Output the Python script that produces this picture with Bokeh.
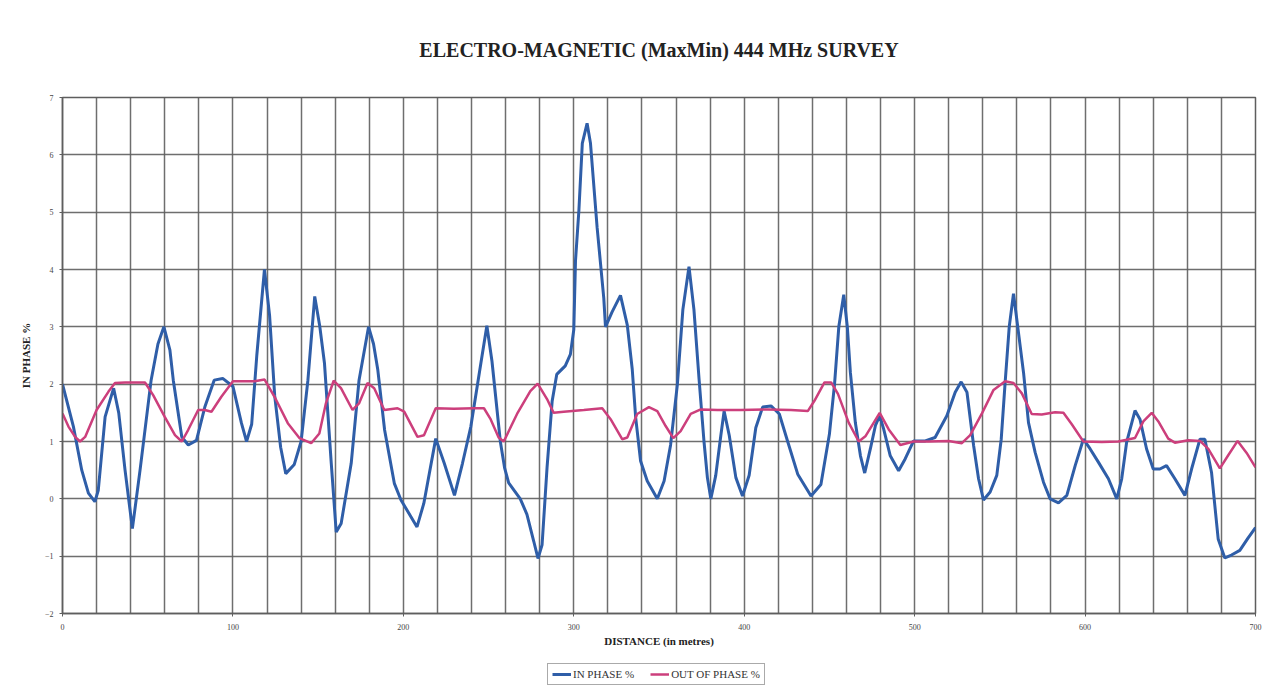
from bokeh.plotting import figure
from bokeh.layouts import column
from bokeh.models import Range1d, SingleIntervalTicker, Legend, LegendItem
from bokeh.embed import file_html
from bokeh.resources import INLINE

# ---- data ----
in_phase_x = [0, 6.4, 11.3, 15.2, 19, 21, 25, 30, 33, 36.7, 41, 45.5, 52, 56, 59.5, 63, 65, 70, 73.8, 78.6,
              83.5, 89, 94, 100, 105, 108, 111, 114, 118.5, 121.5, 124.5, 128, 131, 136, 140, 144, 148, 151,
              153.7, 157.7, 160.6, 163.5, 169.4, 174, 179.6, 182.5, 185, 189, 194.7, 198.6, 208, 212, 219,
              224, 230, 234.7, 239.6, 245.5, 249, 252, 256.9, 259.4, 261.8, 268.6, 272.5, 276.5, 279, 281.4,
              284.3, 287.3, 290, 295, 298, 300, 301, 303, 305, 307.8, 309.8, 313.7, 317.6, 318.6, 322.5,
              327.4, 331.4, 334.3, 336.3, 339.2, 343.1, 349, 353, 356.8, 360.8, 364, 367.6, 370.5, 373.5,
              376.4, 378.4, 380.4, 383.3, 386.3, 388.2, 391.2, 395.1, 399, 402.9, 406.8, 410.8, 415.7, 420.6,
              425.5, 431.4, 439.2, 445, 450, 453, 455.5, 458.4, 460.5, 462.3, 465.2, 468.2, 470.7, 474, 477,
              479.5, 481.8, 485.7, 490.6, 494.5, 499.4, 506.2, 512, 518.9, 523.8, 527.3, 530.7, 534.6, 537.5,
              540.4, 544.3, 548.2, 550.8, 553.1, 555.5, 558, 560.5, 563.9, 566.8, 570.7, 575.6, 579.5, 584.4,
              589.3, 594.2, 599, 603, 607.8, 613.7, 618.6, 621.5, 624.4, 629.3, 632.2, 636.1, 640, 643.9,
              647.8, 652.7, 658.6, 662.5, 667.4, 670.3, 674.2, 678.1, 682, 685.9, 690.8, 695.7, 700]
in_phase_y = [2.0, 1.26, 0.5, 0.1, -0.05, 0.15, 1.43, 1.93, 1.5, 0.5, -0.52, 0.5, 2.07, 2.7, 3.0, 2.6, 2.07,
              1.08, 0.94, 1.02, 1.6, 2.07, 2.1, 1.96, 1.32, 1.0, 1.3, 2.5, 4.0, 3.2, 1.8, 0.9, 0.44, 0.6, 1.0,
              2.07, 3.53, 3.0, 2.37, 0.62, -0.58, -0.43, 0.62, 2.07, 3.0, 2.7, 2.25, 1.2, 0.27, -0.02, -0.49,
              -0.08, 1.05, 0.62, 0.06, 0.62, 1.26, 2.37, 3.02, 2.4, 1.0, 0.54, 0.28, 0.0, -0.27, -0.74, -1.04,
              -0.8, 0.54, 1.7, 2.17, 2.32, 2.52, 2.95, 4.15, 5.03, 6.2, 6.55, 6.2, 4.73, 3.5, 3.0, 3.26, 3.55,
              3.03, 2.26, 1.42, 0.66, 0.31, 0.0, 0.31, 0.94, 2.0, 3.3, 4.05, 3.3, 2.09, 1.0, 0.37, 0.0, 0.41,
              1.11, 1.53, 1.11, 0.37, 0.05, 0.41, 1.24, 1.6, 1.62, 1.48, 1.0, 0.43, 0.05, 0.25, 1.13, 2.0,
              3.0, 3.56, 3.0, 2.2, 1.33, 0.75, 0.45, 0.87, 1.28, 1.45, 1.22, 0.75, 0.49, 0.7, 1.01, 1.01,
              1.07, 1.45, 1.86, 2.04, 1.86, 0.93, 0.35, -0.02, 0.12, 0.41, 1.04, 2.03, 3.0, 3.58, 3.0, 2.2,
              1.33, 0.81, 0.29, 0.0, -0.07, 0.06, 0.58, 1.04, 0.87, 0.64, 0.35, 0.0, 0.35, 0.99, 1.54, 1.39,
              0.87, 0.52, 0.52, 0.58, 0.35, 0.06, 0.52, 1.04, 1.04, 0.46, -0.7, -1.03, -0.98, -0.9, -0.68,
              -0.5]

out_phase_x = [0, 3.5, 7.4, 10.3, 13.3, 20, 27, 30.8, 36.7, 48.4, 53.2, 60, 66, 70, 73.7, 79.6, 83.5, 87.4,
               93.2, 100, 106.9, 112.7, 118.6, 124.4, 132.2, 139, 145.9, 150.7, 154.6, 159.1, 163.4, 170.2,
               174.1, 179, 182.9, 188.8, 196.6, 200.5, 208.3, 212.1, 219, 229.7, 241.4, 247.3, 251, 255.9,
               258.9, 266.7, 274.5, 278.8, 284.3, 288.2, 294.1, 305.9, 316.7, 321.6, 328.4, 331.4, 337.2,
               344.1, 349, 353.9, 358.4, 362.7, 368.6, 374.5, 384.3, 398, 413.7, 427.5, 437.3, 441.2, 447.1,
               451, 455, 461.3, 467.2, 471.1, 479.5, 484.8, 491.6, 499.4, 508.2, 519.9, 527.7, 532.6, 539.5,
               546.3, 553.1, 558, 562.9, 568.7, 574.6, 582.4, 587.3, 592.2, 599, 609.8, 619.5, 629.3, 634.2,
               639.1, 643, 648.8, 652.7, 660.5, 667.4, 672.3, 679.1, 684, 689.5, 694.8, 700]
out_phase_y = [1.49, 1.26, 1.08, 1.0, 1.08, 1.55, 1.87, 2.02, 2.03, 2.03, 1.81, 1.43, 1.11, 1.0, 1.2, 1.55,
               1.55, 1.52, 1.78, 2.05, 2.05, 2.05, 2.08, 1.78, 1.32, 1.06, 0.97, 1.14, 1.67, 2.06, 1.93, 1.55,
               1.67, 2.02, 1.93, 1.55, 1.58, 1.52, 1.08, 1.11, 1.58, 1.57, 1.58, 1.58, 1.4, 1.07, 1.0, 1.48,
               1.88, 2.01, 1.74, 1.5, 1.52, 1.55, 1.58, 1.39, 1.04, 1.07, 1.48, 1.6, 1.53, 1.27, 1.06, 1.18,
               1.48, 1.56, 1.55, 1.55, 1.56, 1.55, 1.53, 1.71, 2.03, 2.03, 1.83, 1.33, 1.0, 1.09, 1.5, 1.21,
               0.94, 1.0, 1.0, 1.01, 0.97, 1.11, 1.49, 1.9, 2.05, 2.02, 1.84, 1.48, 1.47, 1.51, 1.5, 1.3, 1.0,
               0.99, 1.0, 1.06, 1.35, 1.5, 1.35, 1.05, 0.98, 1.02, 1.01, 0.87, 0.53, 0.76, 1.01, 0.8, 0.55]

series_names = ["IN PHASE %", "OUT OF PHASE %"]
series_colors = ["#2f5ea8", "#cc3f7c"]
title_text = "ELECTRO-MAGNETIC (MaxMin) 444 MHz SURVEY"
x_title = "DISTANCE (in metres)"
y_title = "IN PHASE %"

SERIF = "Liberation Serif"
GRID = "#5e5e5e"

p = figure(width=1271, height=656, output_backend="svg", toolbar_location=None,
           x_range=Range1d(0, 700), y_range=Range1d(-2, 7),
           min_border_left=62, min_border_right=16, min_border_top=97, min_border_bottom=43)
p.background_fill_color = "white"
p.border_fill_color = "white"
p.outline_line_color = GRID
p.outline_line_width = 1.5

p.title.text = title_text
p.title.align = "center"
p.title.text_font = SERIF
p.title.text_font_size = "20px"
p.title.text_font_style = "bold"
p.title.text_color = "#222222"
p.title.standoff = 73

p.xaxis.ticker = SingleIntervalTicker(interval=100)
p.yaxis.ticker = SingleIntervalTicker(interval=1)
p.xgrid.ticker = SingleIntervalTicker(interval=20)
p.ygrid.ticker = SingleIntervalTicker(interval=1)
for g in (p.xgrid, p.ygrid):
    g.grid_line_color = GRID
    g.grid_line_width = 1.5
    g.grid_line_alpha = 0.9

for ax in (p.xaxis, p.yaxis):
    ax.axis_line_color = GRID
    ax.axis_line_width = 1.5
    ax.major_tick_line_color = GRID
    ax.major_tick_out = 3
    ax.major_tick_in = 0
    ax.minor_tick_line_color = None
    ax.major_label_text_font = SERIF
    ax.major_label_text_font_size = "8px"
    ax.major_label_text_color = "#444444"
    ax.axis_label_text_font = SERIF
    ax.axis_label_text_font_size = "11px"
    ax.axis_label_text_font_style = "bold"
    ax.axis_label_text_color = "#222222"

p.xaxis.axis_label = x_title
p.yaxis.axis_label = y_title
p.xaxis.axis_label_standoff = 2
p.yaxis.axis_label_standoff = 10
p.xaxis.major_label_standoff = 6

p.line(in_phase_x, in_phase_y, line_color=series_colors[0], line_width=3)
p.line(out_phase_x, out_phase_y, line_color=series_colors[1], line_width=2.5)

# legend strip below the chart (its frame is aligned with the main frame)
lg = figure(width=1271, height=30, output_backend="svg", toolbar_location=None,
            x_range=Range1d(0, 1), y_range=Range1d(0, 1),
            min_border_left=62, min_border_right=16, min_border_top=0, min_border_bottom=0)
lg.axis.visible = False
lg.grid.visible = False
lg.outline_line_color = None
lg.background_fill_color = "white"
lg.border_fill_color = "white"
# single-point lines draw nothing; they only carry the legend glyph styles
k1 = lg.line(in_phase_x[:1], in_phase_y[:1], line_color=series_colors[0], line_width=3)
k2 = lg.line(out_phase_x[:1], out_phase_y[:1], line_color=series_colors[1], line_width=2.5)
legend = Legend(items=[LegendItem(label=series_names[0], renderers=[k1]),
                       LegendItem(label=series_names[1], renderers=[k2])],
                orientation="horizontal", location=(485, 1),
                label_text_font=SERIF, label_text_font_size="11px", label_text_color="#333333",
                glyph_width=19, glyph_height=10, label_standoff=2, spacing=16, padding=4, margin=0,
                border_line_color="#555555", border_line_width=1.2, label_height=10,
                background_fill_alpha=1.0)
lg.add_layout(legend, "center")

layout = column(p, lg, spacing=0)
open("out.html", "w").write(file_html(layout, INLINE))
